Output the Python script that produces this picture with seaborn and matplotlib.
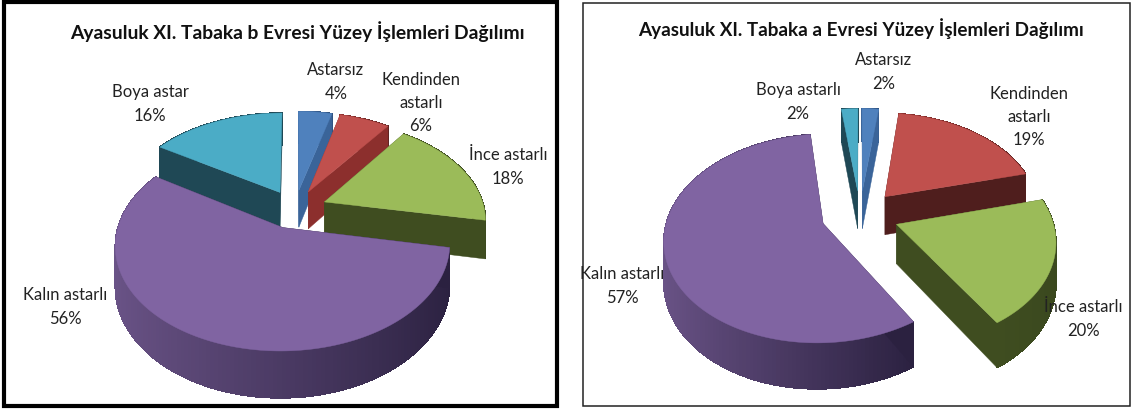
#!/usr/bin/env python3
"""Ayasuluk XI. Tabaka yüzey işlemleri: iki adet 3B görünümlü pasta grafik"""

import numpy as np
import matplotlib
matplotlib.use("Agg")
import matplotlib.pyplot as plt
import seaborn as sns
from matplotlib.colors import to_rgb
from matplotlib.patches import Polygon, Rectangle

# Veriler (saat yönünde, tepeden başlayarak)
title_b = "Ayasuluk XI. Tabaka b Evresi Yüzey İşlemleri Dağılımı"
labels_b = ["Astarsız\n4%", "Kendinden\nastarlı\n6%", "İnce astarlı\n18%",
            "Kalın astarlı\n56%", "Boya astar\n16%"]
values_b = [4, 6, 18, 56, 16]

title_a = "Ayasuluk XI. Tabaka a Evresi Yüzey İşlemleri Dağılımı"
labels_a = ["Astarsız\n2%", "Kendinden\nastarlı\n19%", "İnce astarlı\n20%",
            "Kalın astarlı\n57%", "Boya astarlı\n2%"]
values_a = [2, 19, 20, 57, 2]

top_colors = ["#4f81bd", "#c0504d", "#9bbb59", "#8064a2", "#4bacc6"]
rim_left = ["#3a6499", "#8c2f2d", "#3f4d20", "#6b5488", "#1f4855"]
rim_right = ["#2f5280", "#5a2220", "#3a481e", "#2b2140", "#1f4855"]

# Panel yerleşimi (piksel)
layout_b = dict(cx=295, cy=210, rx=160, ry=97, persp=0.16, depth=38,
                explode=[0.2, 0.2, 0.2, 0.2, 0.2], title_xy=(297, 32), title_size=13.9,
                cut_colors=["#3a6499", "#8c2f2d", "#3f4d20", "#2b2140", "#1f4855"],
                label_xy=[(336, 82), (421, 103), (508, 167), (65, 307), (150, 104)])
layout_a = dict(cx=860, cy=216, rx=155, ry=100, persp=0.14, depth=39,
                explode=[0.25, 0.25, 0.25, 0.25, 0.25], title_xy=(861, 29), title_size=13.6,
                cut_colors=["#3a6499", "#4f1e1d", "#3f4d20", "#2b2140", "#1f4855"],
                label_xy=[(884, 72), (1029, 117), (1083, 319), (622, 286), (798, 102)])

sns.set_theme(style="white")
plt.rcParams["font.family"] = ["Lato", "DejaVu Sans"]

fig = plt.figure(figsize=(11.33, 4.10), dpi=100, facecolor="white")
ax = fig.add_axes([0, 0, 1, 1])


def project(x, y, layout, drop=0.0):
    # Birim pasta koordinatlarını perspektifli piksel konumuna çevir
    s = 1.0 / (1.0 + layout["persp"] * y)
    return (layout["cx"] + layout["rx"] * x * s,
            layout["cy"] - layout["ry"] * y * s + drop * s)


def draw_wedge(wedge, idx, layout, order):
    cx0, cy0 = wedge.center
    depth = layout["depth"]
    theta = np.radians(np.linspace(wedge.theta1, wedge.theta2, 160))
    xs = cx0 + wedge.r * np.cos(theta)
    ys = cy0 + wedge.r * np.sin(theta)

    apex_t = project(cx0, cy0, layout)
    apex_b = project(cx0, cy0, layout, depth)
    tops = np.column_stack(project(xs, ys, layout))
    bots = np.column_stack(project(xs, ys, layout, depth))

    # Dış kenar (dilim boyunca soldan sağa koyulaşır)
    c_l, c_r = np.array(to_rgb(rim_left[idx])), np.array(to_rgb(rim_right[idx]))
    for i in range(len(xs) - 1):
        t = (xs[i] - xs.min()) / (xs.max() - xs.min())
        col = c_l + (c_r - c_l) * t
        ax.add_patch(Polygon([tops[i], tops[i + 1], bots[i + 1], bots[i]], closed=True,
                             facecolor=col, edgecolor=col, lw=0.5, antialiased=False,
                             zorder=order))
    # Kesik yüzler
    cut = layout["cut_colors"][idx]
    for k in (0, -1):
        ax.add_patch(Polygon([apex_t, tops[k], bots[k], apex_b], closed=True,
                             facecolor=cut, edgecolor=cut, lw=0.3, zorder=order + 0.2))
    # Üst yüzey
    ax.add_patch(Polygon(np.vstack([apex_t, tops]), closed=True, facecolor=top_colors[idx],
                         edgecolor=top_colors[idx], lw=0.3, zorder=order + 0.5))


def draw_panel(values, labels, title, layout):
    wedges, _ = ax.pie(values, explode=layout["explode"], startangle=90,
                       counterclock=False, radius=1, frame=False)
    # Arkadaki dilimler önce çizilsin
    mids = [np.sin(np.radians((w.theta1 + w.theta2) / 2)) for w in wedges]
    for rank, idx in enumerate(np.argsort(mids)[::-1]):
        draw_wedge(wedges[idx], idx, layout, 2 + rank)
    for w in wedges:
        w.remove()

    for text, (x, y) in zip(labels, layout["label_xy"]):
        ax.text(x, y, text, ha="center", va="center", fontsize=12, color="#222222",
                linespacing=1.55, zorder=20)
    ax.text(*layout["title_xy"], title, ha="center", va="center",
            fontsize=layout["title_size"], fontweight="bold", color="#111111", zorder=20)


draw_panel(values_b, labels_b, title_b, layout_b)
draw_panel(values_a, labels_a, title_a, layout_a)

ax.add_patch(Rectangle((4, 3), 553, 404, fill=False, edgecolor="black", lw=3, zorder=25))
ax.add_patch(Rectangle((583, 4), 547, 403, fill=False, edgecolor="#222222", lw=1.1, zorder=25))

ax.set_aspect("auto")
ax.set_xlim(0, 1133)
ax.set_ylim(410, 0)
ax.axis("off")

fig.savefig("out.png", dpi=100, facecolor="white")
plt.close(fig)
